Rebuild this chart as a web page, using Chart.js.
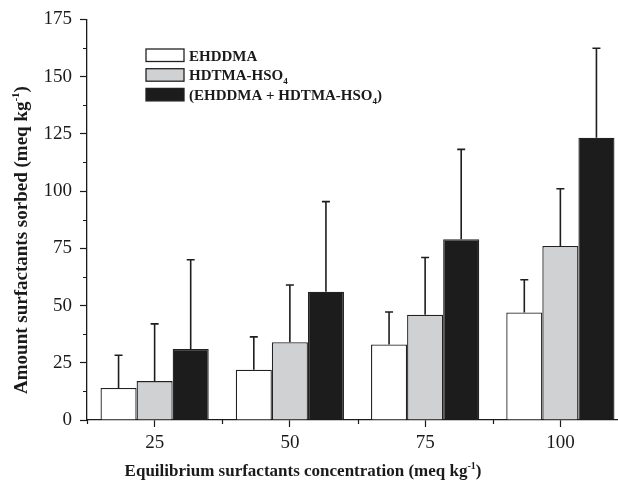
<!DOCTYPE html>
<html><head><meta charset="utf-8">
<script src="https://cdn.jsdelivr.net/npm/chart.js@4"></script>
<style>html,body{margin:0;padding:0;overflow:hidden;background:#fff;width:618px;height:484px}canvas{display:block}</style>
</head><body>
<canvas id="c" width="628" height="484"></canvas>
<script>
const categories = ['25', '50', '75', '100'];
const ehddma = [14, 22, 33, 47];
const ehddmaErr = [14.3, 14.3, 14.2, 14.3];
const hdtma = [17, 34, 46, 76];
const hdtmaErr = [25, 25, 25, 25];
const combined = [31, 56, 79, 123.3];
const combinedErr = [39, 39.4, 39.2, 39.1];
const yMax = 175;
const yStep = 25;

const SERIF = '"Liberation Serif", "Times New Roman", serif';
const INK = '#1a1a1a';
const colors = ['#ffffff', '#d0d1d3', '#1c1c1c'];
const errs = [ehddmaErr, hdtmaErr, combinedErr];

function drawRich(ctx, parts, x, y, align) {
  let total = 0;
  parts.forEach(p => { ctx.font = p.font; total += ctx.measureText(p.t).width; });
  let cx = align === 'center' ? x - total / 2 : x;
  parts.forEach(p => {
    ctx.font = p.font;
    ctx.fillText(p.t, cx, y + (p.dy || 0));
    cx += ctx.measureText(p.t).width;
  });
}

const extras = {
  id: 'extras',
  afterDatasetsDraw(chart) {
    const ctx = chart.ctx;
    const ys = chart.scales.y;
    ctx.save();
    ctx.strokeStyle = '#1e1e1e';
    ctx.lineWidth = 1.6;
    chart.data.datasets.forEach((ds, i) => {
      const meta = chart.getDatasetMeta(i);
      meta.data.forEach((el, j) => {
        const top = ys.getPixelForValue(ds.data[j] + errs[i][j]);
        ctx.beginPath();
        ctx.moveTo(el.x, el.y);
        ctx.lineTo(el.x, top);
        ctx.moveTo(el.x - 4, top);
        ctx.lineTo(el.x + 4, top);
        ctx.stroke();
      });
    });
    ctx.restore();
  },
  afterDraw(chart) {
    const ctx = chart.ctx;
    const xs = chart.scales.x, ys = chart.scales.y;
    ctx.save();
    // minor ticks
    ctx.strokeStyle = INK;
    ctx.lineWidth = 1.2;
    ctx.beginPath();
    for (let v = yStep / 2; v < yMax; v += yStep) {
      const py = Math.round(ys.getPixelForValue(v)) + 0.5;
      ctx.moveTo(xs.left - 4, py);
      ctx.lineTo(xs.left, py);
    }
    const cw = xs.getPixelForValue(1) - xs.getPixelForValue(0);
    for (let i = 0; i <= categories.length; i++) {
      const px = Math.round(xs.getPixelForValue(0) - cw / 2 + i * cw) + 0.5;
      ctx.moveTo(px, ys.bottom);
      ctx.lineTo(px, ys.bottom + 4);
    }
    ctx.stroke();

    // axis titles
    ctx.fillStyle = INK;
    ctx.textBaseline = 'alphabetic';
    const tf = 'bold 17px ' + SERIF;
    const sf = 'bold 10px ' + SERIF;
    drawRich(ctx, [
      {t: 'Equilibrium surfactants concentration (meq kg', font: tf},
      {t: '-1', font: sf, dy: -7},
      {t: ')', font: tf}
    ], 303, 476, 'center');
    const yf = 'bold 19px ' + SERIF;
    const ysf = 'bold 11px ' + SERIF;
    ctx.save();
    ctx.translate(27, 240);
    ctx.rotate(-Math.PI / 2);
    drawRich(ctx, [
      {t: 'Amount surfactants sorbed (meq kg', font: yf},
      {t: '-1', font: ysf, dy: -8},
      {t: ')', font: yf}
    ], 0, 0, 'center');
    ctx.restore();

    // legend
    const lf = 'bold 15px ' + SERIF;
    const lsf = 'bold 9px ' + SERIF;
    const rows = [
      [{t: 'EHDDMA', font: lf}],
      [{t: 'HDTMA-HSO', font: lf}, {t: '4', font: lsf, dy: 4}],
      [{t: '(EHDDMA + HDTMA-HSO', font: lf}, {t: '4', font: lsf, dy: 4}, {t: ')', font: lf}]
    ];
    rows.forEach((r, i) => {
      const top = 49 + i * 19.7;
      ctx.fillStyle = colors[i];
      ctx.fillRect(146, top, 38, 12.5);
      ctx.strokeStyle = '#222';
      ctx.lineWidth = 1.3;
      ctx.strokeRect(146, top, 38, 12.5);
      ctx.fillStyle = INK;
      drawRich(ctx, r, 189, top + 11.5, 'left');
    });
    ctx.restore();
  }
};

new Chart(document.getElementById('c'), {
  type: 'bar',
  data: {
    labels: categories,
    datasets: [
      {label: 'EHDDMA', data: ehddma, backgroundColor: colors[0]},
      {label: 'HDTMA-HSO4', data: hdtma, backgroundColor: colors[1]},
      {label: '(EHDDMA + HDTMA-HSO4)', data: combined, backgroundColor: colors[2]}
    ].map(d => Object.assign(d, {borderColor: '#222', borderWidth: 1.3, categoryPercentage: 0.8, barPercentage: 1.0}))
  },
  options: {
    responsive: false,
    animation: false,
    devicePixelRatio: 1,
    layout: {padding: {top: 18, right: 0, left: 0, bottom: 0}},
    plugins: {legend: {display: false}, tooltip: {enabled: false}},
    scales: {
      x: {
        grid: {display: true, drawOnChartArea: false, offset: false, drawTicks: true, tickLength: 7, tickColor: INK, tickWidth: 1.2},
        border: {color: INK, width: 1.3},
        ticks: {font: {family: SERIF, size: 19}, color: INK, padding: 5, maxRotation: 0},
        afterFit(s) { s.height = 64; }
      },
      y: {
        min: 0, max: yMax,
        grid: {display: true, drawOnChartArea: false, drawTicks: true, tickLength: 7, tickColor: INK, tickWidth: 1.2},
        border: {color: INK, width: 1.3},
        ticks: {stepSize: yStep, font: {family: SERIF, size: 19}, color: INK, padding: 8},
        afterFit(s) { s.width = 87; }
      }
    }
  },
  plugins: [extras]
});
</script>
</body></html>
